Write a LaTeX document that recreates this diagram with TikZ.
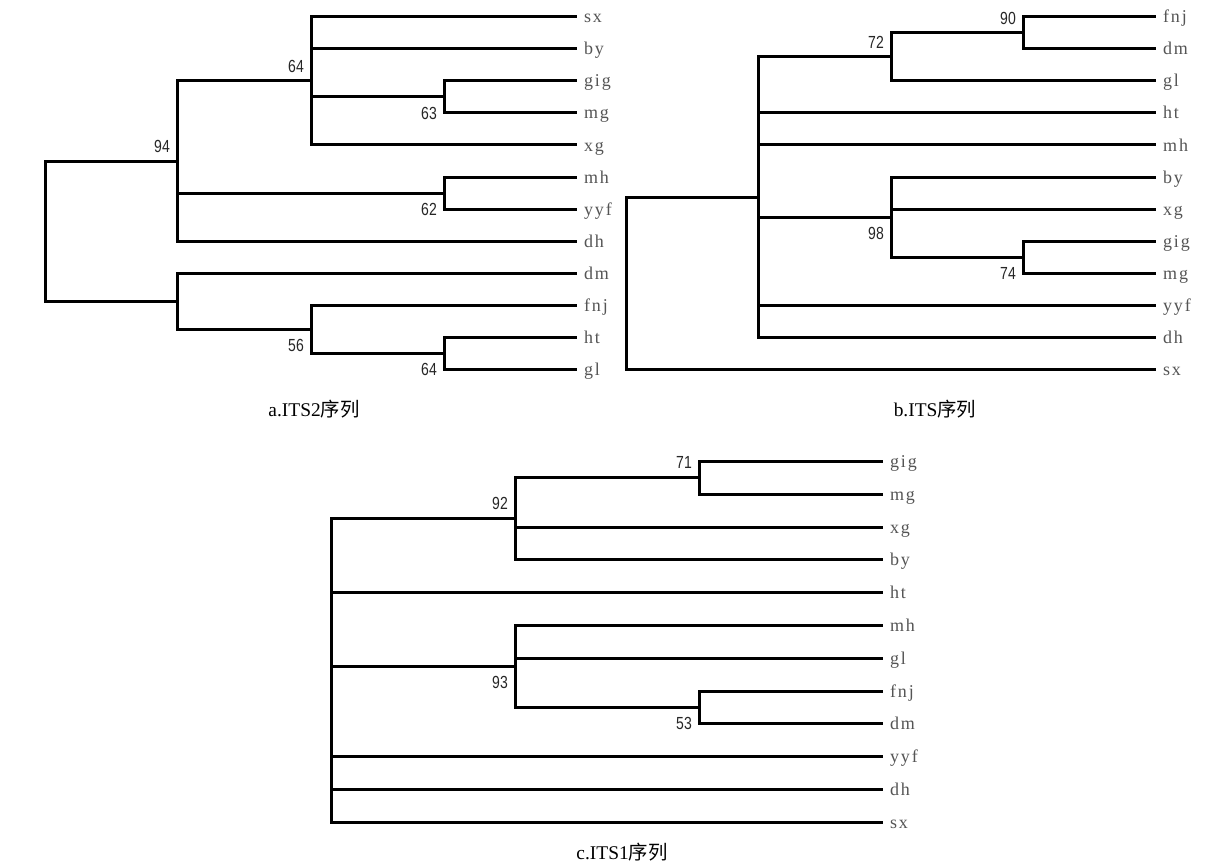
\documentclass[tikz,border=0pt]{standalone}
\usepackage{fontspec}
\setmainfont{Liberation Serif}
\newfontfamily\leaffont[LetterSpace=10]{Liberation Serif}
\newfontfamily\bootfont[FakeStretch=0.8]{Liberation Sans}
\newfontfamily\cjkfont{Noto Sans CJK SC}
\usetikzlibrary{positioning}
\definecolor{leafgray}{HTML}{555555}
\definecolor{bootgray}{HTML}{262626}

\begin{document}
\begin{tikzpicture}[x=1pt, y=-1pt,
		branch/.style={line width=3pt, black},
		leaf/.style={inner sep=0pt, text height=12pt, text depth=0pt, text=leafgray, font=\leaffont\fontsize{18}{20}\selectfont},
		boot/.style={inner sep=0pt, text=bootgray, font=\bootfont\fontsize{17.5}{19}\selectfont},
		caption/.style={anchor=base, inner sep=0pt, font=\fontsize{19.4}{22}\selectfont}]
		%%%%% START %%%%%
		
		\fill[white] (0, 0) rectangle (1226, 864);
		\useasboundingbox (0, 0) rectangle (1226, 864);
		
		%%%%% a.ITS2 %%%%%
		\coordinate (a-sx) at (577, 17);
		\coordinate (a-by) at (577, 49);
		\coordinate (a-gig) at (577, 81);
		\coordinate (a-mg) at (577, 113);
		\coordinate (a-xg) at (577, 145);
		\coordinate (a-mh) at (577, 177);
		\coordinate (a-yyf) at (577, 209);
		\coordinate (a-dh) at (577, 241);
		\coordinate (a-dm) at (577, 273);
		\coordinate (a-fnj) at (577, 305);
		\coordinate (a-ht) at (577, 337);
		\coordinate (a-gl) at (577, 369);
		
		\coordinate (a-root) at (45, 231);
		\coordinate (a94) at (177, 161);
		\coordinate (a64u) at (311, 81);
		\coordinate (a63) at (444, 97);
		\coordinate (a62) at (444, 193);
		\coordinate (a-low) at (177, 301);
		\coordinate (a56) at (311, 329);
		\coordinate (a64l) at (444, 353);
		
		\draw[branch] (a-root) |- (a94) (a-root) |- (a-low);
		\draw[branch] (a94) |- (a64u) (a94) |- (a62) (a94) |- (a-dh);
		\draw[branch] (a64u) |- (a-sx) (a64u) |- (a-by) (a64u) |- (a63) (a64u) |- (a-xg);
		\draw[branch] (a63) |- (a-gig) (a63) |- (a-mg);
		\draw[branch] (a62) |- (a-mh) (a62) |- (a-yyf);
		\draw[branch] (a-low) |- (a-dm) (a-low) |- (a56);
		\draw[branch] (a56) |- (a-fnj) (a56) |- (a64l);
		\draw[branch] (a64l) |- (a-ht) (a64l) |- (a-gl);
		
		\node[leaf, right=7pt of a-sx] (la-sx) {sx};
		\node[leaf, right=7pt of a-by] (la-by) {by};
		\node[leaf, right=7pt of a-gig] (la-gig) {gig};
		\node[leaf, right=7pt of a-mg] (la-mg) {mg};
		\node[leaf, right=7pt of a-xg] (la-xg) {xg};
		\node[leaf, right=7pt of a-mh] (la-mh) {mh};
		\node[leaf, right=7pt of a-yyf] (la-yyf) {yyf};
		\node[leaf, right=7pt of a-dh] (la-dh) {dh};
		\node[leaf, right=7pt of a-dm] (la-dm) {dm};
		\node[leaf, right=7pt of a-fnj] (la-fnj) {fnj};
		\node[leaf, right=7pt of a-ht] (la-ht) {ht};
		\node[leaf, right=7pt of a-gl] (la-gl) {gl};
		
		\node[boot, above left=8pt and 7pt of a94] (ba94) {94};
		\node[boot, above left=8pt and 7pt of a64u] (ba64u) {64};
		\node[boot, below left=10pt and 7pt of a63] (ba63) {63};
		\node[boot, below left=10pt and 7pt of a62] (ba62) {62};
		\node[boot, below left=10pt and 7pt of a56] (ba56) {56};
		\node[boot, below left=10pt and 7pt of a64l] (ba64l) {64};
		
		\node[caption] (capa) at (314, 416) {a.ITS2{\cjkfont 序列}};
		
		%%%%% b.ITS %%%%%
		\coordinate (b-fnj) at (1156, 17);
		\coordinate (b-dm) at (1156, 49);
		\coordinate (b-gl) at (1156, 81);
		\coordinate (b-ht) at (1156, 113);
		\coordinate (b-mh) at (1156, 145);
		\coordinate (b-by) at (1156, 177);
		\coordinate (b-xg) at (1156, 209);
		\coordinate (b-gig) at (1156, 241);
		\coordinate (b-mg) at (1156, 273);
		\coordinate (b-yyf) at (1156, 305);
		\coordinate (b-dh) at (1156, 337);
		\coordinate (b-sx) at (1156, 369);
		
		\coordinate (b-root) at (626, 283);
		\coordinate (b-mid) at (758, 197);
		\coordinate (b72) at (891, 57);
		\coordinate (b90) at (1023, 33);
		\coordinate (b98) at (891, 217);
		\coordinate (b74) at (1023, 257);
		
		\draw[branch] (b-root) |- (b-mid) (b-root) |- (b-sx);
		\draw[branch] (b-mid) |- (b72) (b-mid) |- (b-ht) (b-mid) |- (b-mh) (b-mid) |- (b98) (b-mid) |- (b-yyf) (b-mid) |- (b-dh);
		\draw[branch] (b72) |- (b90) (b72) |- (b-gl);
		\draw[branch] (b90) |- (b-fnj) (b90) |- (b-dm);
		\draw[branch] (b98) |- (b-by) (b98) |- (b-xg) (b98) |- (b74);
		\draw[branch] (b74) |- (b-gig) (b74) |- (b-mg);
		
		\node[leaf, right=7pt of b-fnj] (lb-fnj) {fnj};
		\node[leaf, right=7pt of b-dm] (lb-dm) {dm};
		\node[leaf, right=7pt of b-gl] (lb-gl) {gl};
		\node[leaf, right=7pt of b-ht] (lb-ht) {ht};
		\node[leaf, right=7pt of b-mh] (lb-mh) {mh};
		\node[leaf, right=7pt of b-by] (lb-by) {by};
		\node[leaf, right=7pt of b-xg] (lb-xg) {xg};
		\node[leaf, right=7pt of b-gig] (lb-gig) {gig};
		\node[leaf, right=7pt of b-mg] (lb-mg) {mg};
		\node[leaf, right=7pt of b-yyf] (lb-yyf) {yyf};
		\node[leaf, right=7pt of b-dh] (lb-dh) {dh};
		\node[leaf, right=7pt of b-sx] (lb-sx) {sx};
		
		\node[boot, above left=8pt and 7pt of b90] (bb90) {90};
		\node[boot, above left=8pt and 7pt of b72] (bb72) {72};
		\node[boot, below left=10pt and 7pt of b98] (bb98) {98};
		\node[boot, below left=10pt and 7pt of b74] (bb74) {74};
		
		\node[caption] (capb) at (935, 416) {b.ITS{\cjkfont 序列}};
		
		%%%%% c.ITS1 %%%%%
		\coordinate (c-gig) at (883, 461);
		\coordinate (c-mg) at (883, 494);
		\coordinate (c-xg) at (883, 527);
		\coordinate (c-by) at (883, 559);
		\coordinate (c-ht) at (883, 592);
		\coordinate (c-mh) at (883, 625);
		\coordinate (c-gl) at (883, 658);
		\coordinate (c-fnj) at (883, 691);
		\coordinate (c-dm) at (883, 723);
		\coordinate (c-yyf) at (883, 756);
		\coordinate (c-dh) at (883, 789);
		\coordinate (c-sx) at (883, 822);
		
		\coordinate (c-root) at (331, 670);
		\coordinate (c92) at (515, 518);
		\coordinate (c71) at (699, 477);
		\coordinate (c93) at (515, 666);
		\coordinate (c53) at (699, 707);
		
		\draw[branch] (c-root) |- (c92) (c-root) |- (c-ht) (c-root) |- (c93) (c-root) |- (c-yyf) (c-root) |- (c-dh) (c-root) |- (c-sx);
		\draw[branch] (c92) |- (c71) (c92) |- (c-xg) (c92) |- (c-by);
		\draw[branch] (c71) |- (c-gig) (c71) |- (c-mg);
		\draw[branch] (c93) |- (c-mh) (c93) |- (c-gl) (c93) |- (c53);
		\draw[branch] (c53) |- (c-fnj) (c53) |- (c-dm);
		
		\node[leaf, right=7pt of c-gig] (lc-gig) {gig};
		\node[leaf, right=7pt of c-mg] (lc-mg) {mg};
		\node[leaf, right=7pt of c-xg] (lc-xg) {xg};
		\node[leaf, right=7pt of c-by] (lc-by) {by};
		\node[leaf, right=7pt of c-ht] (lc-ht) {ht};
		\node[leaf, right=7pt of c-mh] (lc-mh) {mh};
		\node[leaf, right=7pt of c-gl] (lc-gl) {gl};
		\node[leaf, right=7pt of c-fnj] (lc-fnj) {fnj};
		\node[leaf, right=7pt of c-dm] (lc-dm) {dm};
		\node[leaf, right=7pt of c-yyf] (lc-yyf) {yyf};
		\node[leaf, right=7pt of c-dh] (lc-dh) {dh};
		\node[leaf, right=7pt of c-sx] (lc-sx) {sx};
		
		\node[boot, above left=8pt and 7pt of c71] (bc71) {71};
		\node[boot, above left=8pt and 7pt of c92] (bc92) {92};
		\node[boot, below left=10pt and 7pt of c93] (bc93) {93};
		\node[boot, below left=10pt and 7pt of c53] (bc53) {53};
		
		\node[caption] (capc) at (622, 859) {c.ITS1{\cjkfont 序列}};
		
		%%%%% END %%%%%
	\end{tikzpicture}
\end{document}
